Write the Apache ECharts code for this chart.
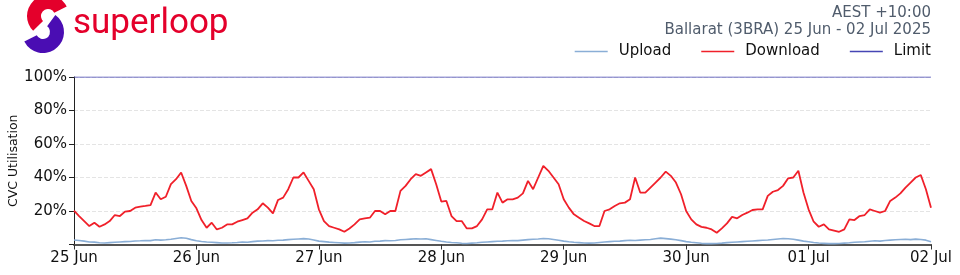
<!DOCTYPE html>
<html>
<head>
<meta charset="utf-8">
<script src="https://cdn.jsdelivr.net/npm/echarts@6/dist/echarts.min.js"></script>
<style>
html,body{margin:0;padding:0;background:#fff;}
#chart{width:960px;height:275px;}
</style>
</head>
<body>
<div id="chart"></div>
<script>
// Day tick labels (one every 24 hours)
const dayLabels = ['25 Jun','26 Jun','27 Jun','28 Jun','29 Jun','30 Jun','01 Jul','02 Jul'];
const seriesNames = ['Upload','Download','Limit'];
const titleLine1 = 'AEST +10:00';
const titleLine2 = 'Ballarat (3BRA) 25 Jun - 02 Jul 2025';

// Hourly download utilisation (%) from 25 Jun 00:00 to 02 Jul 00:00
const download = [
  20.2,17,14,11,13,10.6,12,14,17.6,17,19.6,20,22,22.6,23,23.5,31,27,28.5,36,39,43,35,26,
  21.6,14.6,10,13,9,10,12,12,13.6,14.6,15.6,19,21,24.6,22,18.6,26.6,28,33,40,40,43,38,33,
  21,14,11,10,9,7.6,9.6,12,15,15.6,16,20,20,18,20,20,32,35,39,42,41,43,45,36,
  25.6,26,17,14,14,9.6,9.6,11,15,21,21,31,25,27,27,28,30.5,38,33,40,47,44,40,36,
  27,22,18,16,14,12.6,11,11,20,21,23,24.6,25,27,40,31,31,34,37,40,43.5,41,37,30,
  20,15,12,10.5,10,9,7,9.6,12.6,16.5,15.6,17.6,19,20.6,21,21,29,31.5,32.5,35,39.5,40,44,31,
  21,13.6,10.6,12,9,8.3,7.6,9,15,14.6,17,17.6,21,20,19,20,26,28,30.5,34,37,40,41.5,33,22
];

// Hourly upload utilisation (%)
const upload = [
  2.7,2.4,2.0,1.5,1.4,1.0,0.9,1.1,1.3,1.5,1.7,1.8,2.1,2.2,2.4,2.3,2.8,2.6,2.8,3.1,3.6,4.0,3.7,2.9,
  2.2,1.8,1.5,1.3,1.1,0.9,0.9,1.0,1.2,1.5,1.3,1.7,2.0,2.1,2.3,2.2,2.5,2.6,2.9,3.1,3.3,3.5,3.3,2.7,
  2.0,1.7,1.4,1.2,1.0,0.8,0.9,1.1,1.4,1.6,1.5,1.9,2.0,2.3,2.2,2.4,2.8,3.0,3.2,3.4,3.3,3.4,2.9,2.4,
  1.9,1.5,1.2,1.0,0.7,0.6,0.8,1.0,1.3,1.5,1.7,1.9,2.0,2.2,2.4,2.3,2.6,2.9,3.1,3.3,3.6,3.4,3.0,2.5,
  2.0,1.6,1.3,1.1,0.9,0.8,0.9,1.2,1.5,1.7,1.9,2.0,2.3,2.5,2.4,2.6,2.8,3.0,3.4,3.8,3.5,3.2,2.8,2.3,
  1.7,1.3,1.0,0.7,0.5,0.5,0.6,0.8,1.1,1.3,1.5,1.7,1.9,2.1,2.3,2.5,2.7,3.0,3.3,3.6,3.4,3.1,2.6,2.0,
  1.6,1.2,0.9,0.7,0.5,0.5,0.6,0.8,1.0,1.3,1.5,1.6,1.9,2.2,2.0,2.4,2.6,2.8,3.0,3.1,2.9,3.2,3.0,2.6,1.6
];

const limitValue = 100;

const hours = download.map((_, i) => i);
const toPairs = arr => arr.map((v, i) => [hours[i], v]);
const limit = hours.map(h => [h, limitValue]);

const chart = echarts.init(document.getElementById('chart'), null, {renderer: 'canvas'});
const FONT = 'DejaVu Sans';
chart.setOption({
  animation: false,
  backgroundColor: '#fff',
  textStyle: {fontFamily: FONT},
  grid: {left: 74, right: 29, top: 77, bottom: 30.5, containLabel: false, outerBoundsMode: 'none'},
  legend: {
    data: seriesNames,
    right: 24,
    top: 39,
    icon: 'rect',
    itemWidth: 33,
    itemHeight: 1.6,
    itemGap: 30,
    textStyle: {fontSize: 15, color: '#111', fontFamily: FONT, padding: [0, 0, 0, 6]}
  },
  graphic: [
    {type: 'sector', shape: {cx: 48, cy: 16, r: 21, r0: 7, startAngle: 0.75 * Math.PI, endAngle: 1.85 * Math.PI, clockwise: true}, style: {fill: '#e4002b'}},
    {type: 'sector', shape: {cx: 43, cy: 32, r: 21, r0: 7, startAngle: -0.3 * Math.PI, endAngle: 0.85 * Math.PI, clockwise: true}, style: {fill: '#4a0db3'}},
    {type: 'text', left: 73, top: 7, style: {text: 'superloop', fill: '#e4002b', font: '35px Roboto'}},
    {type: 'text', right: 29, top: 6, style: {text: titleLine1, fill: '#505c6c', font: '15px "DejaVu Sans"', textAlign: 'right'}},
    {type: 'text', right: 29, top: 23, style: {text: titleLine2, fill: '#505c6c', font: '15px "DejaVu Sans"', textAlign: 'right'}}
  ],
  xAxis: {
    type: 'value',
    min: 0,
    max: 168,
    interval: 24,
    axisLine: {show: true, lineStyle: {color: '#555', width: 2}},
    axisTick: {show: true, length: 5, lineStyle: {color: '#333'}},
    axisLabel: {formatter: v => dayLabels[Math.round(v / 24)], fontSize: 15, color: '#111', margin: 6, fontFamily: FONT},
    splitLine: {show: false}
  },
  yAxis: {
    type: 'value',
    min: 0,
    max: 100,
    interval: 20,
    name: 'CVC Utilisation',
    nameLocation: 'middle',
    nameGap: 54,
    nameMoveOverlap: false,
    nameTextStyle: {fontSize: 12.5, color: '#111', fontFamily: FONT},
    axisLine: {show: true, lineStyle: {color: '#222', width: 1}},
    axisTick: {show: true, length: 5, lineStyle: {color: '#222'}},
    axisLabel: {formatter: v => v === 0 ? '' : v + '%', fontSize: 15, color: '#111', margin: 7, fontFamily: FONT},
    splitLine: {show: true, lineStyle: {type: 'dashed', color: '#e4e4e4', width: 1}}
  },
  series: [
    {name: 'Upload', type: 'line', data: toPairs(upload), symbol: 'none', lineStyle: {color: '#8aaed6', width: 1.6}, itemStyle: {color: '#8aaed6'}, z: 3},
    {name: 'Download', type: 'line', data: toPairs(download), symbol: 'none', lineStyle: {color: '#f0202a', width: 1.8}, itemStyle: {color: '#f0202a'}, z: 4},
    {name: 'Limit', type: 'line', data: limit, symbol: 'none', lineStyle: {color: '#4646b4', width: 1.2}, itemStyle: {color: '#4646b4'}, z: 5}
  ]
});
</script>
</body>
</html>
